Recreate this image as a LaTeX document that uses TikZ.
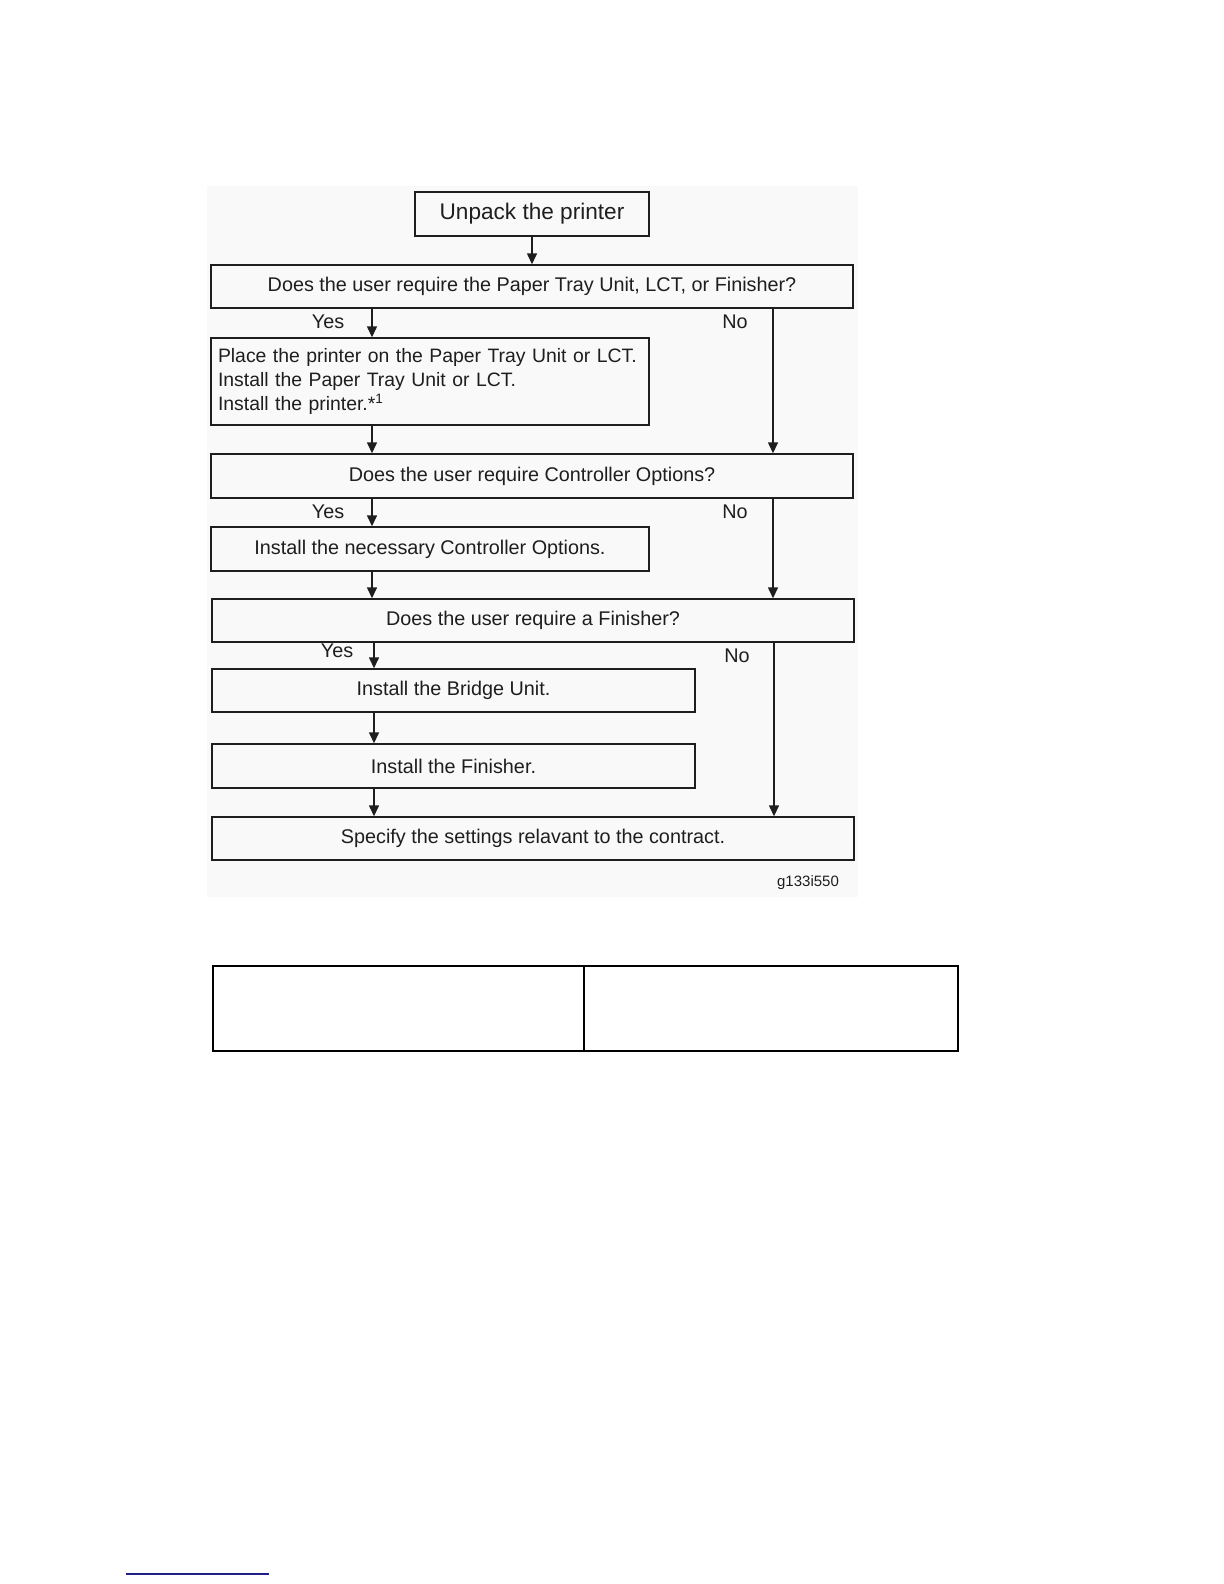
\documentclass[tikz,border=0pt]{standalone}
\usepackage{fontspec}
\setmainfont{Liberation Sans}
\usetikzlibrary{arrows.meta}
\definecolor{linkblue}{RGB}{30,30,140}
\definecolor{ink}{RGB}{30,30,30}

\begin{document}
\begin{tikzpicture}[x=0.5pt, y=-0.5pt, >={Triangle[length=5.5pt,width=5pt]},
  box/.style={draw=ink, text=ink, line width=0.7pt, inner sep=0pt, font=\fontsize{9.9}{11.9}\selectfont},
  wide/.style={minimum width=321pt, minimum height=21.5pt},
  half/.style={minimum width=219pt, minimum height=22pt},
  mid/.style={minimum width=241.5pt, minimum height=21.5pt},
  lbl/.style={text=ink, font=\fontsize{9.9}{11.9}\selectfont},
  arr/.style={->, draw=ink, line width=0.7pt}]
  \useasboundingbox (0,0) rectangle (1224,1584);
  \fill[black!2.5] (207,186) rectangle (858,897);
  \node[box, minimum width=117pt, minimum height=22pt, font=\fontsize{11.3}{13}\selectfont] (unpack) at (532,214) {Unpack the printer};
  \node[box, wide] (q1) at (532,286.5) {Does the user require the Paper Tray Unit, LCT, or Finisher?};
  \node[box, minimum width=219pt, minimum height=43.5pt, text width=212pt, inner xsep=3.5pt, align=left,
    font=\fontsize{9.7}{12}\selectfont] (place) at (430,381.5)
    {Place the printer on the Paper Tray Unit or LCT.\\Install the Paper Tray Unit or LCT.\\Install the printer.*\textsuperscript{1}};
  \node[box, wide, minimum height=22pt] (q2) at (532,476) {Does the user require Controller Options?};
  \node[box, half] (ctrl) at (430,549) {Install the necessary Controller Options.};
  \node[box, wide] (q3) at (533,620.5) {Does the user require a Finisher?};
  \node[box, mid] (bridge) at (453.5,690.5) {Install the Bridge Unit.};
  \node[box, mid, minimum height=22pt] (fin) at (453.5,766) {Install the Finisher.};
  \node[box, wide] (spec) at (533,838.5) {Specify the settings relavant to the contract.};
  \node[text=ink, font=\fontsize{7.5}{9}\selectfont] (fig) at (808,883) {g133i550};
  \node[lbl] (yes1) at (328,322) {Yes};
  \node[lbl] (no1) at (735,322) {No};
  \node[lbl] (yes2) at (328,512) {Yes};
  \node[lbl] (no2) at (735,512) {No};
  \node[lbl] (yes3) at (337,651) {Yes};
  \node[lbl] (no3) at (737,656) {No};
  \coordinate (lx) at (372,0);
  \coordinate (rx) at (773,0);
  \coordinate (lx2) at (374,0);
  \coordinate (rx2) at (774,0);
  \draw[arr] (unpack) -- (q1);
  \draw[arr] (q1.south -| lx) -- (place.north -| lx);
  \draw[arr] (q1.south -| rx) -- (q2.north -| rx);
  \draw[arr] (place.south -| lx) -- (q2.north -| lx);
  \draw[arr] (q2.south -| lx) -- (ctrl.north -| lx);
  \draw[arr] (q2.south -| rx) -- (q3.north -| rx);
  \draw[arr] (ctrl.south -| lx) -- (q3.north -| lx);
  \draw[arr] (q3.south -| lx2) -- (bridge.north -| lx2);
  \draw[arr] (bridge.south -| lx2) -- (fin.north -| lx2);
  \draw[arr] (fin.south -| lx2) -- (spec.north -| lx2);
  \draw[arr] (q3.south -| rx2) -- (spec.north -| rx2);
  % empty table
  \draw[line width=1.2pt] (213,966) rectangle (958,1051);
  \draw[line width=1.2pt] (584,966) -- (584,1051);
  \draw[line width=1pt, linkblue] (126,1574) -- (269,1574);
\end{tikzpicture}
\end{document}
